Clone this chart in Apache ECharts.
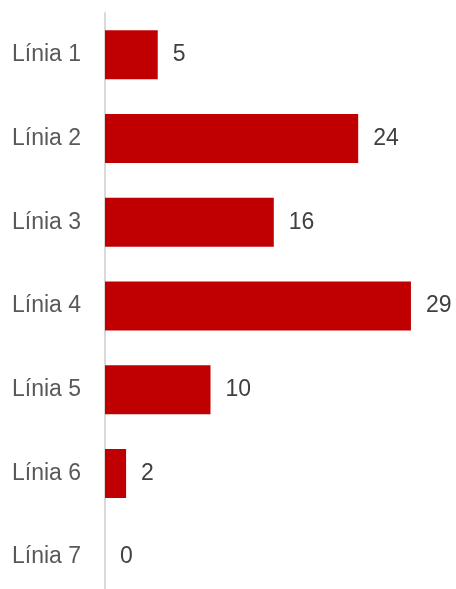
<!DOCTYPE html>
<html><head><meta charset="utf-8">
<script src="https://cdn.jsdelivr.net/npm/echarts@6/dist/echarts.min.js"></script>
<style>html,body{margin:0;padding:0;background:#fff;overflow:hidden}#c{width:456px;height:600px}</style>
</head><body><div id="c"></div>
<script>
const categories = ["Línia 1","Línia 2","Línia 3","Línia 4","Línia 5","Línia 6","Línia 7"];
const values = [5,24,16,29,10,2,0];

const chart = echarts.init(document.getElementById('c'));
chart.setOption({
  animation:false,
  grid:{left:105,top:13,height:586,width:316.5},
  xAxis:{type:'value',min:0,max:30,show:false},
  yAxis:{type:'category',data:categories,inverse:true,
    axisLine:{show:true,lineStyle:{color:'#d9d9d9',width:2}},
    axisTick:{show:false},
    axisLabel:{color:'#595959',fontSize:23,fontFamily:'Liberation Sans, Arial',margin:24}},
  series:[{type:'bar',data:values,barCategoryGap:'41.5%',
    itemStyle:{color:'#c00000'},
    label:{show:true,position:'right',distance:15,color:'#404040',fontSize:23,fontFamily:'Liberation Sans, Arial'}}]
});
</script></body></html>
